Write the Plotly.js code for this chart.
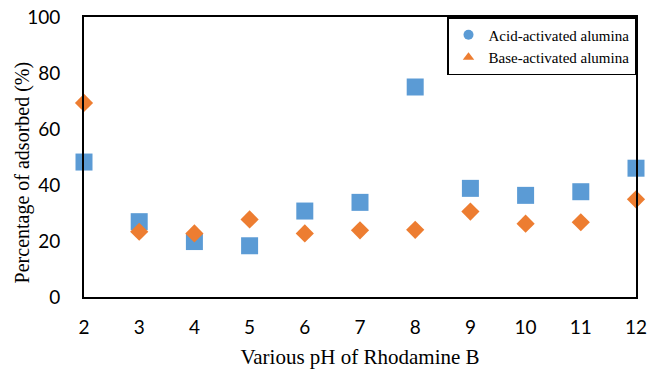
<!DOCTYPE html>
<html>
<head>
<meta charset="utf-8">
<script src="https://cdn.plot.ly/plotly-3.0.1.min.js"></script>
<style>html,body{margin:0;padding:0;background:#fff;}#chart{width:650px;height:374px;}</style>
</head>
<body>
<div id="chart"></div>
<script>
// pH values of the Rhodamine B solution
const phValues = [2, 3, 4, 5, 6, 7, 8, 9, 10, 11, 12];
// Percentage adsorbed (%) for each adsorbent
const acidActivated = [48.2, 26.9, 19.8, 18.3, 30.7, 33.8, 75.0, 38.8, 36.3, 37.6, 46.0];
const baseActivated = [69.3, 23.3, 22.7, 27.7, 22.7, 23.8, 24.0, 30.5, 26.2, 26.7, 34.9];
const yTicks = [0, 20, 40, 60, 80, 100];
const seriesNames = ['Acid-activated alumina', 'Base-activated alumina'];
const xTitle = 'Various pH of Rhodamine B';
const yTitle = 'Percentage of adsorbed (%)';

const blue = '#5B9BD5', orange = '#ED7D31';
const serif = 'Liberation Serif';
const sans = 'Lato';

const traces = [
  {x: phValues, y: acidActivated, type: 'scatter', mode: 'markers', showlegend: false,
   cliponaxis: false, marker: {symbol: 'square', size: 17, color: blue}},
  {x: phValues, y: baseActivated, type: 'scatter', mode: 'markers', showlegend: false,
   cliponaxis: false, marker: {symbol: 'diamond', size: 14, color: orange}},
  // legend keys
  {x: [null], y: [null], type: 'scatter', mode: 'markers', name: seriesNames[0],
   marker: {symbol: 'circle', size: 10, color: blue}},
  {x: [null], y: [null], type: 'scatter', mode: 'markers', name: seriesNames[1],
   marker: {symbol: 'triangle-up', size: 10, color: orange}}
];

const layout = {
  width: 650, height: 374,
  margin: {l: 84, r: 14, t: 17, b: 77},
  paper_bgcolor: '#fff', plot_bgcolor: '#fff',
  font: {family: sans, color: '#000'},
  xaxis: {
    range: [2, 12], tickvals: phValues, showgrid: false, zeroline: false,
    showline: true, mirror: true, linecolor: '#000', linewidth: 2,
    ticks: '', ticklabelstandoff: 12, tickfont: {size: 19, family: sans},
    title: {text: xTitle, standoff: 13, font: {family: serif, size: 21}}
  },
  yaxis: {
    range: [0, 100], tickvals: yTicks, showgrid: false, zeroline: false,
    showline: true, mirror: true, linecolor: '#000', linewidth: 2,
    ticks: '', ticklabelstandoff: 18, tickfont: {size: 19, family: sans}
  },
  // y-axis title, set slightly below the plot's mid-height
  annotations: [{
    text: yTitle, textangle: -90, showarrow: false,
    xref: 'paper', yref: 'paper', x: -0.1123, y: 0.445,
    xanchor: 'center', yanchor: 'middle',
    font: {family: serif, size: 20, color: '#000'}
  }],
  legend: {
    x: 1, y: 1, xanchor: 'right', yanchor: 'top',
    bgcolor: '#fff', bordercolor: '#000', borderwidth: 1.5,
    font: {family: serif, size: 15},
    itemwidth: 30, tracegroupgap: 0
  }
};

Plotly.newPlot('chart', traces, layout, {displayModeBar: false, staticPlot: true});
</script>
</body>
</html>
